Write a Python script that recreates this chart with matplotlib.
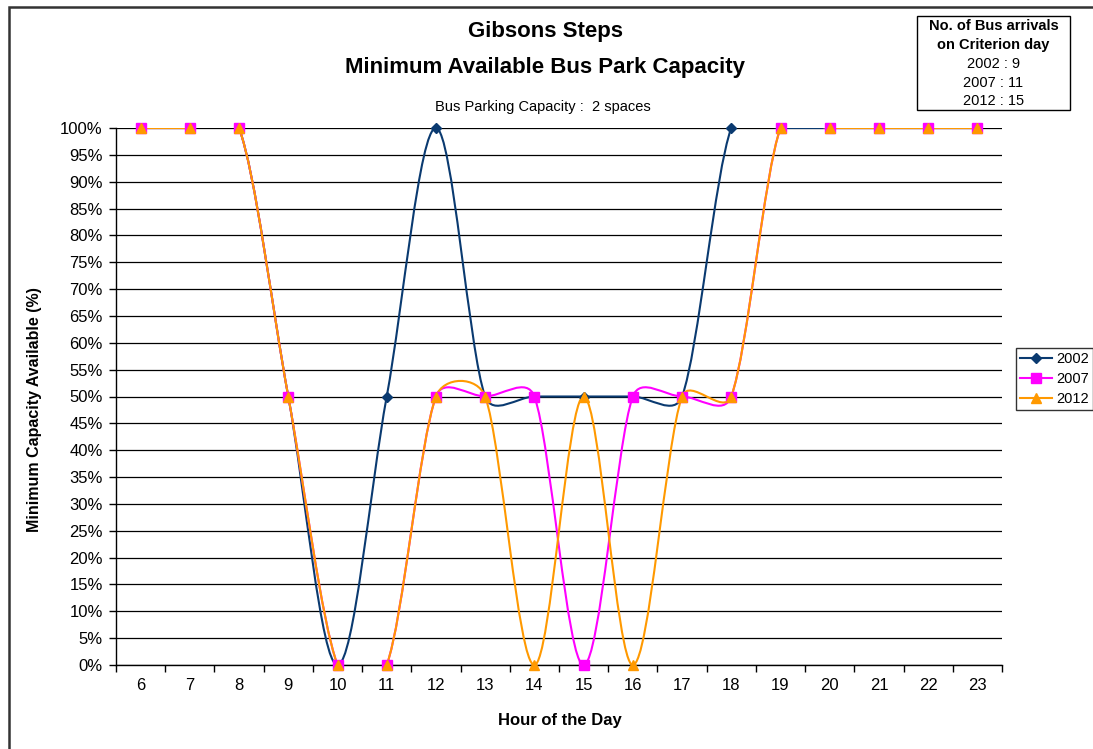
import numpy as np
import matplotlib
matplotlib.use('Agg')
import matplotlib.pyplot as plt
from matplotlib.path import Path
from matplotlib.patches import PathPatch, Rectangle
from matplotlib.lines import Line2D
from matplotlib.ticker import FixedLocator, FuncFormatter

# Data
hours = list(range(6, 24))
cap_2002 = [100, 100, 100, 50, 0, 50, 100, 50, 50, 50, 50, 50, 100, 100, 100, 100, 100, 100]
cap_2007 = [100, 100, 100, 50, 0, 0, 50, 50, 50, 0, 50, 50, 50, 100, 100, 100, 100, 100]
cap_2012 = [100, 100, 100, 50, 0, 0, 50, 50, 0, 50, 0, 50, 50, 100, 100, 100, 100, 100]
series_names = ['2002', '2007', '2012']
arrivals = ['2002 : 9', '2007 : 11', '2012 : 15']

plt.rcParams['font.family'] = ['Liberation Sans', 'DejaVu Sans']

W, H = 1093, 749
fig = plt.figure(figsize=(W / 100, H / 100), dpi=100)
ax = fig.add_axes([116 / W, 1 - 665 / H, (1002 - 116) / W, (665 - 128) / H])
ax.set_xlim(5.5, 23.5)
ax.set_ylim(0, 100)


def smooth_path(ax, xs, ys, k=0.45):
    # Excel-like smoothed line: cubic Bezier segments built in screen space,
    # tangent = neighbour chord / 6, limited to a share of the segment length
    pts = ax.transData.transform(np.column_stack([xs, ys]).astype(float))
    n = len(pts)
    verts = [pts[0]]
    codes = [Path.MOVETO]

    def limit(v, seg):
        L = np.hypot(*v)
        if L > k * seg and L > 0:
            v = v * (k * seg / L)
        return v

    for i in range(n - 1):
        p0 = pts[max(i - 1, 0)]
        p1 = pts[i]
        p2 = pts[i + 1]
        p3 = pts[min(i + 2, n - 1)]
        d12 = np.hypot(*(p2 - p1))
        c1 = p1 + limit((p2 - p0) / 6.0, d12)
        c2 = p2 - limit((p3 - p1) / 6.0, d12)
        verts += [c1, c2, p2]
        codes += [Path.CURVE4] * 3
    verts = ax.transData.inverted().transform(np.array(verts))
    return Path(verts, codes)


colors = ['#0a3a70', '#ff00ff', '#ff9900']
markers = ['D', 's', '^']
msizes = [5.5, 6.5, 7.5]
handles = []
for vals, name, c, m, ms in zip([cap_2002, cap_2007, cap_2012], series_names, colors, markers, msizes):
    ax.add_patch(PathPatch(smooth_path(ax, hours, vals), fill=False, edgecolor=c, lw=1.5))
    ax.plot(hours, vals, ls='none', marker=m, ms=ms, color=c, mec=c, clip_on=False, zorder=3)
    handles.append(Line2D([], [], color=c, lw=1.5, marker=m, ms=ms, mec=c))

# axes styling
for s in ['top', 'right']:
    ax.spines[s].set_visible(False)
for s in ['left', 'bottom']:
    ax.spines[s].set_color('black')
    ax.spines[s].set_linewidth(1.0)

ax.yaxis.set_major_locator(FixedLocator(list(range(0, 101, 5))))
ax.yaxis.set_major_formatter(FuncFormatter(lambda v, p: f'{v:.0f}%'))
ax.yaxis.grid(True, color='black', lw=0.9)
ax.set_axisbelow(True)
ax.tick_params(axis='y', direction='out', length=5, width=1, labelsize=12, pad=4.5)

ax.xaxis.set_major_locator(FixedLocator([h - 0.5 for h in hours] + [hours[-1] + 0.5]))
ax.xaxis.set_minor_locator(FixedLocator(hours))
ax.xaxis.set_major_formatter(FuncFormatter(lambda v, p: ''))
ax.xaxis.set_minor_formatter(FuncFormatter(lambda v, p: f'{v:.0f}'))
ax.tick_params(axis='x', which='major', direction='out', length=5, width=1)
ax.tick_params(axis='x', which='minor', length=0, labelsize=12, pad=9)

# axis titles
fig.text(559.5 / W, 1 - 721 / H, 'Hour of the Day', ha='center', va='center',
         fontsize=12, fontweight='bold')
fig.text(35 / W, 1 - 410 / H, 'Minimum Capacity Available (%)', ha='center', va='center',
         rotation=90, fontsize=11.5, fontweight='bold')

# titles
fig.text(546 / W, 1 - 31 / H, 'Gibsons Steps', ha='center', va='center', fontsize=16, fontweight='bold')
fig.text(545 / W, 1 - 67 / H, 'Minimum Available Bus Park Capacity', ha='center', va='center',
         fontsize=16, fontweight='bold')
fig.text(543 / W, 1 - 107 / H, 'Bus Parking Capacity :  2 spaces', ha='center', va='center', fontsize=10.5)

# legend
leg = fig.legend(handles=handles, labels=series_names, loc='upper left',
                 bbox_to_anchor=(1016 / W, 1 - 348 / H), fontsize=10.5, frameon=True,
                 fancybox=False, edgecolor='black', handlelength=2.2, handletextpad=0.25,
                 borderpad=0.3, labelspacing=0.4, borderaxespad=0)
leg.get_frame().set_linewidth(1.0)

# arrivals box
fig.add_artist(Rectangle((917 / W, 1 - 110 / H), (1070 - 917) / W, (110 - 16) / H,
                         transform=fig.transFigure, fill=False, edgecolor='black', lw=1.0))
box_lines = ['No. of Bus arrivals', 'on Criterion day'] + arrivals
box_y = [26, 45, 64, 83, 101]
for txt, yy, bold in zip(box_lines, box_y, [True, True, False, False, False]):
    fig.text(993.5 / W, 1 - yy / H, txt, ha='center', va='center', fontsize=10.5,
             fontweight='bold' if bold else 'normal')

# outer chart border
fig.add_artist(Rectangle((8.5 / W, -0.1), 2, 0.1 + 1 - 7.5 / H, transform=fig.transFigure,
                         fill=False, edgecolor='#333333', lw=1.8))

fig.savefig('out.png', dpi=100)
